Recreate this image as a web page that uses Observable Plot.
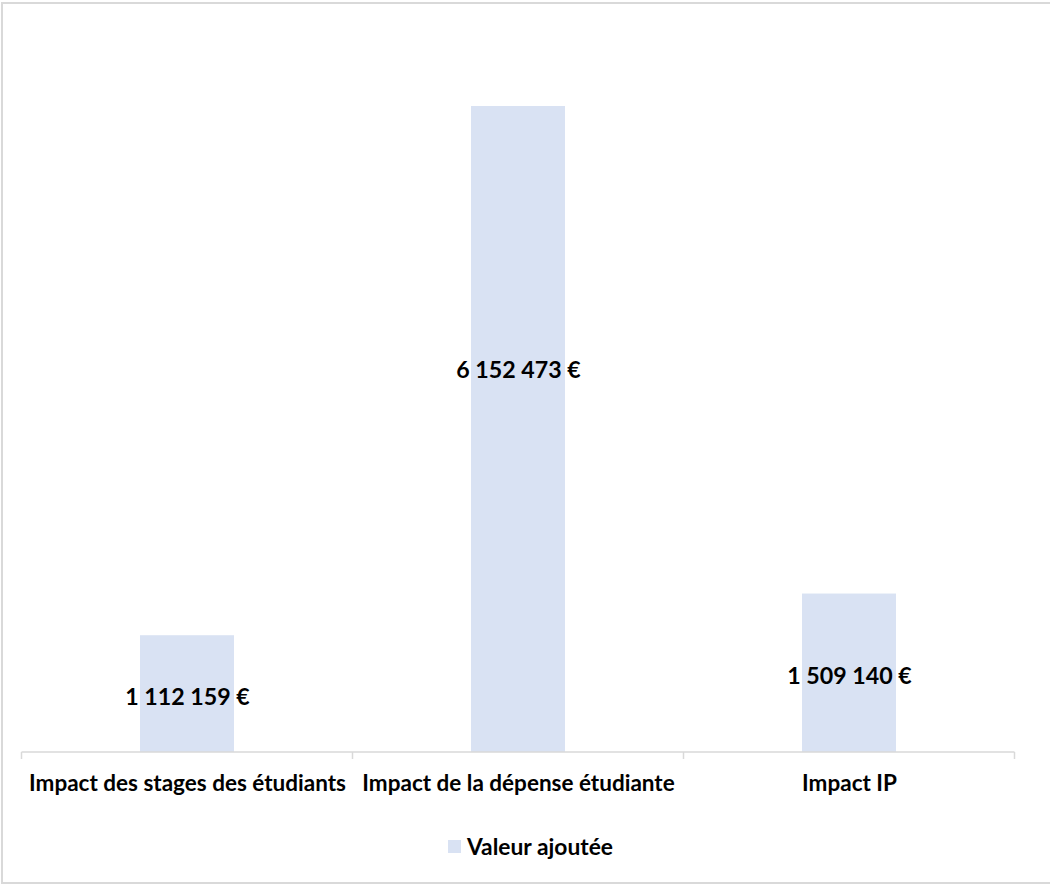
<!DOCTYPE html>
<html>
<head>
<meta charset="utf-8">
<script src="https://cdn.jsdelivr.net/npm/d3@7"></script>
<script src="https://cdn.jsdelivr.net/npm/@observablehq/plot@0.6"></script>
<style>
  html, body { margin: 0; padding: 0; background: #fff; overflow: hidden; }
  body { width: 1050px; height: 884px; position: relative; font-family: Lato, "Open Sans", sans-serif; }
  #frame { position: absolute; left: 1px; top: 2px; width: 1100px; height: 882px; box-sizing: border-box; border: 2px solid #d9d9d9; }
  #chart { position: absolute; left: 0; top: 0; }
  #legend { position: absolute; left: 448px; top: 831px; height: 30px; display: flex; align-items: center; font-weight: bold; font-size: 22.8px; color: #000; }
  #legend .sw { width: 13px; height: 13px; background: #d9e2f3; margin-right: 6px; }
</style>
</head>
<body>
<div id="frame"></div>
<div id="chart"></div>
<div id="legend"><span class="sw"></span><span>Valeur ajoutée</span></div>
<script>
const categories = ["Impact des stages des étudiants", "Impact de la dépense étudiante", "Impact IP"];
const values = [1112159, 6152473, 1509140];
const seriesName = "Valeur ajoutée";
const yMax = 7000000;

const data = categories.map((c, i) => ({category: c, value: values[i]}));
const fmt = v => String(v).replace(/\B(?=(\d{3})+(?!\d))/g, " ") + " €";

const barColor = "#d9e2f3";
const axisColor = "#d9d9d9";

// baseline with tick marks at category boundaries, derived from the scales
function baselineTicks(index, scales, values, dims) {
  const x = scales.x;
  const y0 = scales.y(0);
  const bw = typeof x.bandwidth === "function" ? x.bandwidth() : (scales.scales && scales.scales.x ? scales.scales.x.bandwidth : 0);
  let step = typeof x.step === "function" ? x.step() : (scales.scales && scales.scales.x ? scales.scales.x.step : 0);
  if (!step) step = (dims.width - dims.marginLeft - dims.marginRight) / categories.length;
  const bounds = categories.map(c => x(c) + bw / 2 - step / 2);
  bounds.push(bounds[bounds.length - 1] + step);
  const g = d3.create("svg:g");
  g.append("line")
    .attr("x1", bounds[0]).attr("x2", bounds[bounds.length - 1])
    .attr("y1", y0).attr("y2", y0)
    .attr("stroke", axisColor).attr("stroke-width", 1.5);
  for (const b of bounds) {
    g.append("line")
      .attr("x1", b).attr("x2", b)
      .attr("y1", y0).attr("y2", y0 + 7)
      .attr("stroke", axisColor).attr("stroke-width", 1.5);
  }
  return g.node();
}

const plot = Plot.plot({
  width: 1050,
  height: 800,
  marginLeft: 22,
  marginRight: 35,
  marginTop: 17,
  marginBottom: 48,
  style: {fontFamily: "Lato, 'Open Sans', sans-serif", fontWeight: "bold", fontSize: "22px", color: "#000", background: "transparent", overflow: "visible"},
  x: {domain: categories, paddingInner: 0.716, paddingOuter: 0.358, axis: null},
  y: {domain: [0, yMax], axis: null},
  marks: [
    Plot.barY(data, {x: "category", y: "value", fill: barColor}),
    baselineTicks,
    Plot.axisX({label: null, tickSize: 0, tickPadding: 23, fontSize: 22.5, fontWeight: "bold", fill: "#000"}),
    Plot.text(data.filter((d, i) => i !== 1), {x: "category", y: d => d.value / 2, text: d => fmt(d.value), fontSize: 23.2, fontWeight: "bold", fill: "#000", dy: 3}),
    Plot.text(data.filter((d, i) => i === 1), {x: "category", y: d => d.value / 2, text: d => fmt(d.value), fontSize: 23.2, fontWeight: "bold", fill: "#000", dy: -59})
  ]
});
document.getElementById("chart").appendChild(plot);
</script>
</body>
</html>
